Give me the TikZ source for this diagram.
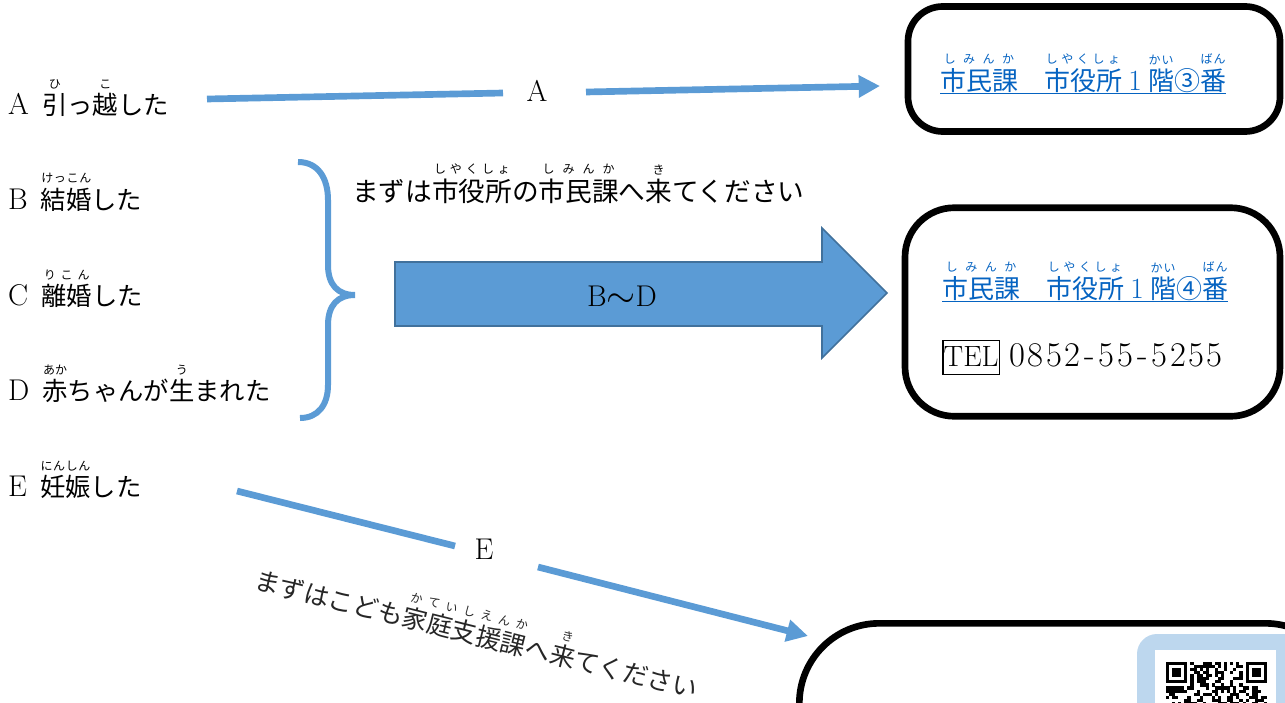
\documentclass[tikz,border=0pt]{standalone}
\usepackage{fontspec}
\newfontfamily\jp{Noto Sans CJK JP}
\usetikzlibrary{arrows.meta}
\definecolor{ablue}{HTML}{5B9BD5}
\definecolor{aborder}{HTML}{41719C}
\definecolor{linkc}{HTML}{0563C1}
\definecolor{qrbg}{HTML}{BDD7EE}
\newcommand\rubyf{\jp\fontsize{9}{9}\selectfont}
\newcommand\rubyx[2]{\leavevmode\setbox0\hbox{#1}\vbox{\offinterlineskip\hbox to\wd0{\rubyf\hss#2\hss}\kern3pt\box0}}
\newcommand\rsp{\hfil\hfil}
\newcommand\jpL{\jp\fontsize{19}{23}\selectfont}
\newcommand\latL{\fontsize{22.5}{26}\selectfont}
\newcommand\dgt[1]{\makebox[13.8pt]{#1}}
\newcommand\hyp{\makebox[12pt]{-}}
\begin{document}
\begin{tikzpicture}[x=0.75pt,y=-0.75pt,
  txt/.style={inner sep=0pt, outer sep=0pt},
  conn/.style={draw=ablue, line width=5pt},
  arrowend/.style={-{Triangle[length=16pt,width=16pt]}},
  rbox/.style={draw=black, line width=5pt, inner sep=0pt, fill=none},
  linkline/.style={draw=linkc, line width=1.1pt}]
\useasboundingbox (0,0) rectangle (1285,703);
\clip (0,0) rectangle (1285,703);

% left labels
\node[txt, anchor=base west] (rowA) at (8,114) {\latL A\hspace{10pt}\jpL\rubyx{引}{ひ}っ\rubyx{越}{こ}した};
\node[txt, anchor=base west] (rowB) at (8,209) {\latL B\hspace{10pt}\jpL\rubyx{結婚}{け\rsp っ\rsp こ\rsp ん}した};
\node[txt, anchor=base west] (rowC) at (8,305) {\latL C\hspace{10pt}\jpL\rubyx{離婚}{り\rsp こ\rsp ん}した};
\node[txt, anchor=base west] (rowD) at (8,400) {\latL D\hspace{10pt}\jpL\rubyx{赤}{あか}ちゃんが\rubyx{生}{う}まれた};
\node[txt, anchor=base west] (rowE) at (8,496) {\latL E\hspace{10pt}\jpL\rubyx{妊娠}{に\rsp ん\rsp し\rsp ん}した};

% brace
\draw[draw=ablue, line width=4.5pt]
  (298,162) .. controls (318,162) and (328,178) .. (328,200) -- (328,265)
  .. controls (328,285) and (338,295) .. (355,295)
  .. controls (338,295) and (328,305) .. (328,325) -- (328,385)
  .. controls (328,405) and (318,418) .. (300,418);

% main note
\node[txt, anchor=base west] (note1) at (352,201) {\jp\fontsize{20}{24}\selectfont まずは\rubyx{市役所}{し\rsp や\rsp く\rsp し\rsp ょ}の\rubyx{市民課}{し\rsp み\rsp ん\rsp か}へ\rubyx{来}{き}てください};

% block arrow
\draw[fill=ablue, draw=aborder, line width=1.2pt]
  (395,262) -- (822,262) -- (822,228) -- (887,293) -- (822,358) -- (822,326) -- (395,326) -- cycle;
\node[txt] (lblBD) at (622,297) {\latL B\raisebox{-1pt}{\scalebox{1.35}{$\sim$}}D};

% boxes
\node[rbox, rounded corners=26pt, minimum width=279pt, minimum height=93.75pt] (box1) at (1094,69) {};
\node[rbox, rounded corners=37pt, minimum width=281.25pt, minimum height=156.4pt] (box2) at (1092.5,312) {};
\node[rbox, rounded corners=60pt, minimum width=409.5pt, minimum height=150pt, anchor=north west] (box3) at (796,620) {};

% box texts
\node[txt, anchor=base west, text=linkc] (bt1) at (940,90) {\jp\fontsize{19.5}{23}\selectfont\rubyx{市民課}{し\rsp み\rsp ん\rsp か}　\rubyx{市役所}{し\rsp や\rsp く\rsp し\rsp ょ}\makebox[1em]{\rmfamily\fontsize{22}{22}\selectfont 1}\rubyx{階}{か\rsp い}③\rubyx{番}{ば\rsp ん}};
\draw[linkline] ([yshift=-2.5pt]bt1.base west) -- ([yshift=-2.5pt]bt1.base east);
\node[txt, anchor=base west, text=linkc] (bt2) at (942,298) {\jp\fontsize{19.5}{23}\selectfont\rubyx{市民課}{し\rsp み\rsp ん\rsp か}　\rubyx{市役所}{し\rsp や\rsp く\rsp し\rsp ょ}\makebox[1em]{\rmfamily\fontsize{22}{22}\selectfont 1}\rubyx{階}{か\rsp い}④\rubyx{番}{ば\rsp ん}};
\draw[linkline] ([yshift=-2.5pt]bt2.base west) -- ([yshift=-2.5pt]bt2.base east);
\node[draw=black, line width=0.9pt, inner xsep=0.5pt, inner ysep=0pt, text height=19pt, text depth=6.5pt, anchor=base west, outer sep=0pt] (tel) at (943,366) {\fontsize{22}{22}\selectfont TEL};
\node[txt, anchor=base west] (telnum) at (1008,366) {\fontsize{26}{28}\selectfont\dgt0\dgt8\dgt5\dgt2\hyp\dgt5\dgt5\hyp\dgt5\dgt2\dgt5\dgt5};

% arrow A
\coordinate (a0) at (207,99);
\coordinate (a1) at (503,93);
\coordinate (a2) at (586,92);
\coordinate (a3) at (880,86);
\draw[conn] (a0) -- (a1);
\draw[conn, arrowend] (a2) -- (a3);
\node[txt] (lblA) at (537,91) {\latL A};

% arrow E
\coordinate (e0) at (237,491);
\coordinate (e1) at (455,546);
\coordinate (e2) at (538,567);
\coordinate (e3) at (808,636);
\draw[conn] (e0) -- (e1);
\draw[conn, arrowend] (e2) -- (e3);
\node[txt] (lblE) at (484,549) {\latL E};

% rotated note
\node[txt, anchor=base, rotate=-14, text=black!85] (note2) at (474,644) {\jp\fontsize{19}{23}\selectfont まずはこども\rubyx{家庭支援課}{か\rsp て\rsp い\rsp し\rsp え\rsp ん\rsp か}へ\rubyx{来}{き}てください};

% QR area
\fill[qrbg, rounded corners=15pt] (1137,634) rectangle (1330,780);
\fill[white] (1155,650) rectangle (1276,780);
\pgfmathsetseed{12345}
\foreach \r in {0,...,13}{
  \foreach \c in {0,...,32}{
    \pgfmathtruncatemacro\inf{(\r<8 && (\c<8 || \c>24)) ? 1 : 0}
    \ifnum\inf=0
      \pgfmathrandominteger{\q}{0}{1}
      \ifnum\q=1 \fill (1166+\c*3.06,662+\r*3.06) rectangle ++(3.1,3.1); \fi
    \fi
  }
}
\foreach \fx in {1166, 1245.56}{
  \fill (\fx,662) rectangle ++(21.42,21.42);
  \fill[white] (\fx+3.06,665.06) rectangle ++(15.3,15.3);
  \fill (\fx+6.12,668.12) rectangle ++(9.18,9.18);
}
\end{tikzpicture}
\end{document}
